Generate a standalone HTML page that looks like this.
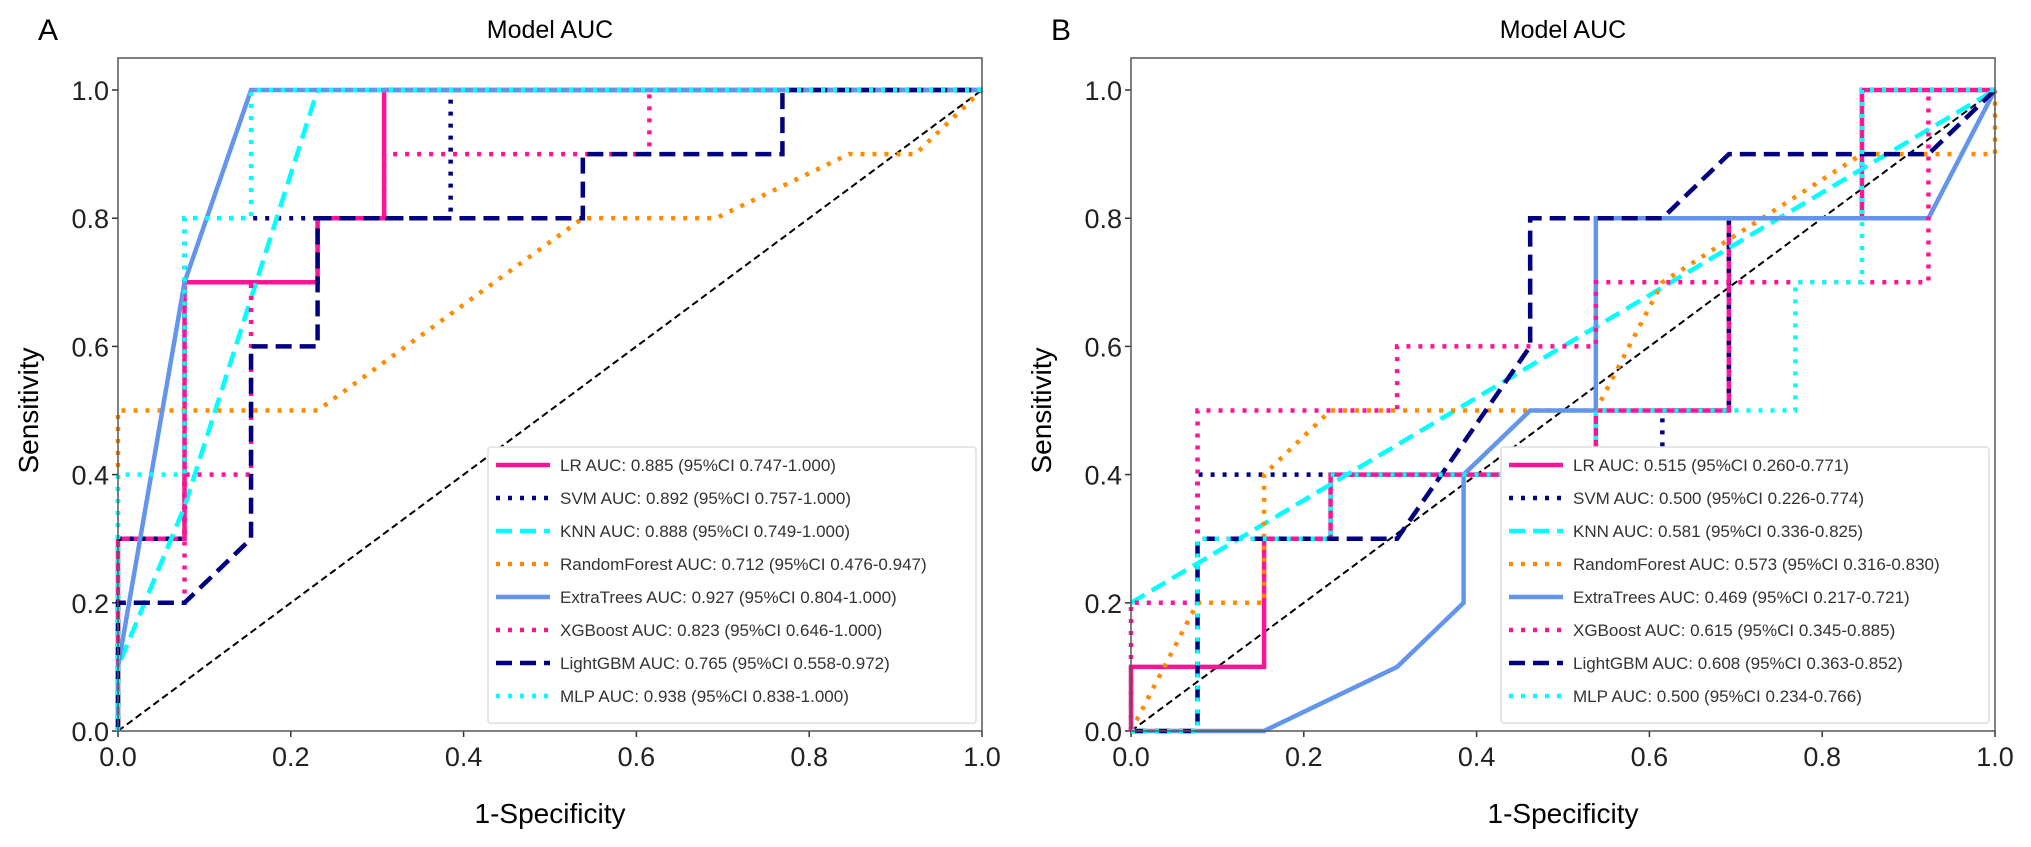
<!DOCTYPE html>
<html><head><meta charset="utf-8"><style>
body{margin:0;background:#fff;}
svg{display:block;font-family:"Liberation Sans",sans-serif;}
</style></head><body>
<svg id="c" width="2031" height="847" viewBox="0 0 2031 847"></svg>
<script>
const tickValues = [0, 0.2, 0.4, 0.6, 0.8, 1.0];
const tickLabels = ["0.0","0.2","0.4","0.6","0.8","1.0"];
const modelNames = ["LR","SVM","KNN","RandomForest","ExtraTrees","XGBoost","LightGBM","MLP"];
const aucA = ["0.885 (95%CI 0.747-1.000)","0.892 (95%CI 0.757-1.000)","0.888 (95%CI 0.749-1.000)","0.712 (95%CI 0.476-0.947)","0.927 (95%CI 0.804-1.000)","0.823 (95%CI 0.646-1.000)","0.765 (95%CI 0.558-0.972)","0.938 (95%CI 0.838-1.000)"];
const aucB = ["0.515 (95%CI 0.260-0.771)","0.500 (95%CI 0.226-0.774)","0.581 (95%CI 0.336-0.825)","0.573 (95%CI 0.316-0.830)","0.469 (95%CI 0.217-0.721)","0.615 (95%CI 0.345-0.885)","0.608 (95%CI 0.363-0.852)","0.500 (95%CI 0.234-0.766)"];
const rocA = [
 [[0,0],[0,0.3],[0.077,0.3],[0.077,0.7],[0.231,0.7],[0.231,0.8],[0.308,0.8],[0.308,1],[1,1]],
 [[0,0],[0,0.3],[0.077,0.3],[0.077,0.8],[0.385,0.8],[0.385,1],[1,1]],
 [[0,0],[0,0.1],[0.077,0.35],[0.231,1],[1,1]],
 [[0,0],[0,0.5],[0.231,0.5],[0.538,0.8],[0.692,0.8],[0.846,0.9],[0.923,0.9],[1,1]],
 [[0,0],[0,0.1],[0.077,0.7],[0.154,1],[1,1]],
 [[0,0],[0,0.2],[0.077,0.2],[0.077,0.4],[0.154,0.4],[0.154,0.7],[0.231,0.7],[0.231,0.8],[0.308,0.8],[0.308,0.9],[0.615,0.9],[0.615,1],[1,1]],
 [[0,0],[0,0.2],[0.077,0.2],[0.154,0.3],[0.154,0.6],[0.231,0.6],[0.231,0.8],[0.538,0.8],[0.538,0.9],[0.769,0.9],[0.769,1],[1,1]],
 [[0,0],[0,0.4],[0.077,0.4],[0.077,0.8],[0.154,0.8],[0.154,1],[1,1]]
];
const rocB = [
 [[0,0],[0,0.1],[0.154,0.1],[0.154,0.3],[0.231,0.3],[0.231,0.4],[0.538,0.4],[0.538,0.5],[0.692,0.5],[0.692,0.8],[0.846,0.8],[0.846,1],[1,1]],
 [[0,0],[0.077,0],[0.077,0.4],[0.615,0.4],[0.615,0.5],[0.692,0.5],[0.692,0.8],[0.846,0.8],[0.846,1],[1,1]],
 [[0,0.2],[0.25,0.4],[0.5,0.6],[0.75,0.8],[1,1]],
 [[0,0],[0.077,0.2],[0.154,0.2],[0.154,0.4],[0.231,0.5],[0.538,0.5],[0.615,0.7],[0.846,0.9],[1,0.9],[1,1]],
 [[0,0],[0.154,0],[0.308,0.1],[0.385,0.2],[0.385,0.4],[0.462,0.5],[0.538,0.5],[0.538,0.8],[0.923,0.8],[1,1]],
 [[0,0],[0,0.2],[0.077,0.2],[0.077,0.5],[0.308,0.5],[0.308,0.6],[0.538,0.6],[0.538,0.7],[0.923,0.7],[0.923,1],[1,1]],
 [[0,0],[0.077,0],[0.077,0.3],[0.308,0.3],[0.462,0.6],[0.462,0.8],[0.615,0.8],[0.692,0.9],[0.923,0.9],[1,1]],
 [[0,0],[0.077,0],[0.077,0.3],[0.231,0.3],[0.231,0.4],[0.538,0.4],[0.538,0.5],[0.769,0.5],[0.769,0.7],[0.846,0.7],[0.846,1],[1,1]]
];
const colors = ["#ff1493","#000080","#00ffff","#ff8c00","#6495ed","#ff1493","#000080","#00ffff"];
const dashes = ["", "4 8", "16 8", "4 8", "", "4 8", "16 8", "4 8"];
const NS = "http://www.w3.org/2000/svg";
const svg = document.getElementById('c');
function el(tag, attrs, parent, text){
  const e = document.createElementNS(NS, tag);
  for (const k in attrs) e.setAttribute(k, attrs[k]);
  if (text !== undefined) e.textContent = text;
  (parent||svg).appendChild(e); return e;
}
function panel(x0, letter, roc, auc, key){
  const L = x0, R = x0 + 864, T = 58;
  const sx = v => L + v * 864;
  const sy = v => 731 - v * 641;
  const g = el('g', {});
  
  
  const lt = el('text', {x: x0 - 80, y: 40, 'font-size': 30}, g, letter);
  
  
  const tt = el('text', {x: L + 432, y: 38, 'font-size': 25, 'text-anchor': 'middle'}, g, 'Model AUC');
  
  
  tickValues.forEach((v, i) => {
    el('line', {x1: L - 6, x2: L, y1: sy(v), y2: sy(v), stroke: '#333', 'stroke-width': 1.5}, g);
    const yl = el('text', {x: L - 9, y: sy(v) + 10, 'font-size': 27, 'text-anchor': 'end', fill: '#222'}, g, tickLabels[i]);
    
    
    el('line', {x1: sx(v), x2: sx(v), y1: 731, y2: 737, stroke: '#333', 'stroke-width': 1.5}, g);
    const xl = el('text', {x: sx(v), y: 766, 'font-size': 27, 'text-anchor': 'middle', fill: '#222'}, g, tickLabels[i]);
    
    
  });
  const xt = el('text', {x: L + 432, y: 823, 'font-size': 28, 'text-anchor': 'middle'}, g, '1-Specificity');
  
  
  const yt = el('text', {x: 0, y: 0, 'font-size': 28, 'text-anchor': 'middle', transform: `translate(${L-80},${sy(0.5)}) rotate(-90)`}, g, 'Sensitivity');
  
  
  const d = el('line', {x1: sx(0), y1: sy(0), x2: sx(1), y2: sy(1), stroke: '#000', 'stroke-width': 2, 'stroke-dasharray': '7 4'}, g);
  
  
  roc.forEach((pts, i) => {
    const p = el('polyline', {points: pts.map(q => sx(q[0]) + ',' + sy(q[1])).join(' '), fill: 'none', stroke: colors[i], 'stroke-width': 4.5, 'stroke-dasharray': dashes[i]}, g);
    
    
  });
  el('rect', {x: L, y: T, width: 864, height: 731 - T, fill: 'none', stroke: '#555', 'stroke-width': 1.5}, g);
  const lg = el('g', {}, g);
  
  
  const lx = R - 494, ly = 447;
  el('rect', {x: lx, y: ly, width: 488, height: 276, fill: '#fff', stroke: '#ddd', 'stroke-width': 1.5, rx: 3}, lg);
  modelNames.forEach((m, i) => {
    const y = ly + 18 + i * 33;
    el('line', {x1: lx + 8, x2: lx + 62, y1: y, y2: y, stroke: colors[i], 'stroke-width': 4.5, 'stroke-dasharray': dashes[i]}, lg);
    const t = el('text', {x: lx + 72, y: y + 6, 'font-size': 17, fill: '#333'}, lg, m + ' AUC: ' + auc[i]);
    
    
  });
}
panel(118, 'A', rocA, aucA, 'a');
panel(1131, 'B', rocB, aucB, 'b');
</script>
</body></html>
